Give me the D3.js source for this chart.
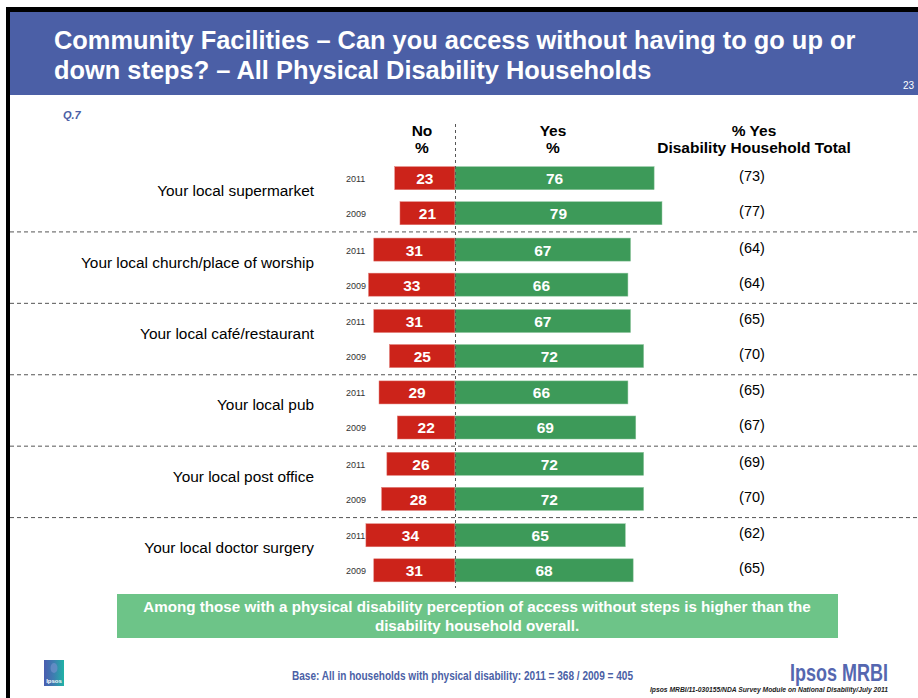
<!DOCTYPE html>
<html><head><meta charset="utf-8">
<script src="https://cdn.jsdelivr.net/npm/d3@7"></script>
<style>html,body{margin:0;padding:0;background:#fff;}svg{display:block;font-family:"Liberation Sans",Arial,sans-serif;}</style>
</head><body>
<svg id="c" width="918" height="698"></svg>
<script>
const categories = ["Your local supermarket","Your local church/place of worship","Your local café/restaurant","Your local pub","Your local post office","Your local doctor surgery"];
const years = ["2011","2009"];
const no2011 = [23,31,31,29,26,34];
const no2009 = [21,33,25,22,28,31];
const yes2011 = [76,67,67,66,72,65];
const yes2009 = [79,66,72,69,72,68];
const total2011 = [73,64,65,65,69,62];
const total2009 = [77,64,70,67,70,65];
const titleLines = ["Community Facilities – Can you access without having to go up or","down steps? – All Physical Disability Households"];
const headerNo = ["No","%"];
const headerYes = ["Yes","%"];
const headerTotal = ["% Yes","Disability Household Total"];
const noteLines = ["Among those with a physical disability perception of access without steps is higher than the","disability household overall."];

const rows = [];
categories.forEach((c,i)=>{
  rows.push({cat:c, year:"2011", no:no2011[i], yes:yes2011[i], total:total2011[i]});
  rows.push({cat:c, year:"2009", no:no2009[i], yes:yes2009[i], total:total2009[i]});
});

const svg = d3.select("#c");
const blue = "#4b5fa6";

// frame
svg.append("rect").attr("x",6).attr("y",7).attr("width",912).attr("height",5).attr("fill","#000");
svg.append("rect").attr("x",6).attr("y",7).attr("width",4).attr("height",691).attr("fill","#000");
svg.append("rect").attr("x",10).attr("y",12).attr("width",908).attr("height",83).attr("fill",blue);

svg.selectAll("text.title").data(titleLines).join("text").attr("class","title")
  .attr("x",54).attr("y",(d,i)=>49+i*30).attr("fill","#fff").attr("font-weight","bold")
  .attr("font-size",25.4).text(d=>d);
svg.append("text").attr("x",903).attr("y",89).attr("fill","#fff").attr("font-size",10).text("23");

svg.append("text").attr("x",63).attr("y",119).attr("fill",blue).attr("font-size",11)
  .attr("font-weight","bold").attr("font-style","italic").text("Q.7");

const x = d3.scaleLinear().domain([-100,100]).range([193,717]);
const y = d3.scaleBand().domain(categories).range([160,588.5]);
const yy = d3.scaleBand().domain(years).range([0,y.bandwidth()]).paddingInner(0.343).paddingOuter(0.19);

// headers
const hdr = [[headerNo,422],[headerYes,553],[headerTotal,754]];
hdr.forEach(([lines,cx])=>{
  svg.selectAll(null).data(lines).join("text").attr("x",cx).attr("y",(d,i)=>136+i*17)
    .attr("text-anchor","middle").attr("font-weight","bold").attr("font-size",15.5).attr("fill","#000").text(d=>d);
});

// separators
svg.selectAll("line.sep").data(categories.slice(1)).join("line").attr("class","sep")
  .attr("x1",10).attr("x2",918).attr("y1",d=>y(d)+0.5).attr("y2",d=>y(d)+0.5)
  .attr("stroke","#555").attr("stroke-width",1).attr("stroke-dasharray","4,3");

// category labels
svg.selectAll("text.cat").data(categories).join("text").attr("class","cat")
  .attr("x",314).attr("y",d=>y(d)+y.bandwidth()/2+0.5).attr("text-anchor","end")
  .attr("font-size",15.4).attr("fill","#000").text(d=>d);

const g = svg.selectAll("g.row").data(rows).join("g").attr("class","row")
  .attr("transform",d=>`translate(0,${y(d.cat)+yy(d.year)})`);
const bh = yy.bandwidth();

g.append("text").attr("x",346).attr("y",bh/2+4).attr("font-size",9).attr("fill","#333").text(d=>d.year);
g.append("rect").attr("x",d=>x(-d.no)).attr("width",d=>x(0)-x(-d.no)).attr("height",bh)
  .attr("fill","#cc231a").attr("stroke","#e07a74").attr("stroke-width",0.5);
g.append("rect").attr("x",x(0)).attr("width",d=>x(d.yes)-x(0)).attr("height",bh)
  .attr("fill","#3d9a59").attr("stroke","#8cc49c").attr("stroke-width",0.5);
g.append("text").attr("x",d=>(x(-d.no)+x(0))/2).attr("y",bh/2+6).attr("text-anchor","middle")
  .attr("fill","#fff").attr("font-weight","bold").attr("font-size",15.5).text(d=>d.no);
g.append("text").attr("x",d=>(x(d.yes)+x(0))/2).attr("y",bh/2+6).attr("text-anchor","middle")
  .attr("fill","#fff").attr("font-weight","bold").attr("font-size",15.5).text(d=>d.yes);
g.append("text").attr("x",752).attr("y",bh/2+3).attr("text-anchor","middle")
  .attr("fill","#000").attr("font-size",14.5).text(d=>`(${d.total})`);

// center dashed line
svg.append("line").attr("x1",x(0)+0.5).attr("x2",x(0)+0.5).attr("y1",124).attr("y2",588)
  .attr("stroke","#555").attr("stroke-width",1).attr("stroke-dasharray","3,3");

// note box
svg.append("rect").attr("x",117).attr("y",594).attr("width",721).attr("height",44).attr("fill","#6dc488");
svg.selectAll("text.note").data(noteLines).join("text").attr("class","note")
  .attr("x",477).attr("y",(d,i)=>612+i*19).attr("text-anchor","middle").attr("fill","#fff")
  .attr("font-weight","bold").attr("font-size",15.2).text(d=>d);

// footer
svg.append("text").attr("x",292).attr("y",680).attr("fill",blue).attr("font-weight","bold")
  .attr("font-size",13).attr("textLength",341).attr("lengthAdjust","spacingAndGlyphs")
  .text("Base: All in households with physical disability:  2011 = 368 / 2009 = 405");
svg.append("text").attr("x",790).attr("y",681).attr("fill","#5567b0").attr("font-weight","bold")
  .attr("font-size",23).attr("textLength",98).attr("lengthAdjust","spacingAndGlyphs").text("Ipsos MRBI");
svg.append("text").attr("x",650).attr("y",692).attr("fill","#222").attr("font-weight","bold")
  .attr("font-style","italic").attr("font-size",7).attr("textLength",238).attr("lengthAdjust","spacingAndGlyphs")
  .text("Ipsos MRBI/11-030155/NDA Survey Module on National Disability/July 2011");

// logo
const defs = svg.append("defs");
const lg = defs.append("linearGradient").attr("id","lg").attr("x1","0").attr("x2","1");
lg.append("stop").attr("offset","0").attr("stop-color","#4a5db0");
lg.append("stop").attr("offset","0.5").attr("stop-color","#3d7fb0");
lg.append("stop").attr("offset","1").attr("stop-color","#1fb3a6");
svg.append("rect").attr("x",44).attr("y",660).attr("width",20).attr("height",26).attr("fill","url(#lg)");
svg.append("ellipse").attr("cx",54).attr("cy",668).attr("rx",3.5).attr("ry",5).attr("fill","#6a8fc8").attr("opacity",0.8);
svg.append("text").attr("x",54).attr("y",683).attr("text-anchor","middle").attr("fill","#fff")
  .attr("font-size",6).attr("font-weight","bold").text("Ipsos");
</script>
</body></html>
